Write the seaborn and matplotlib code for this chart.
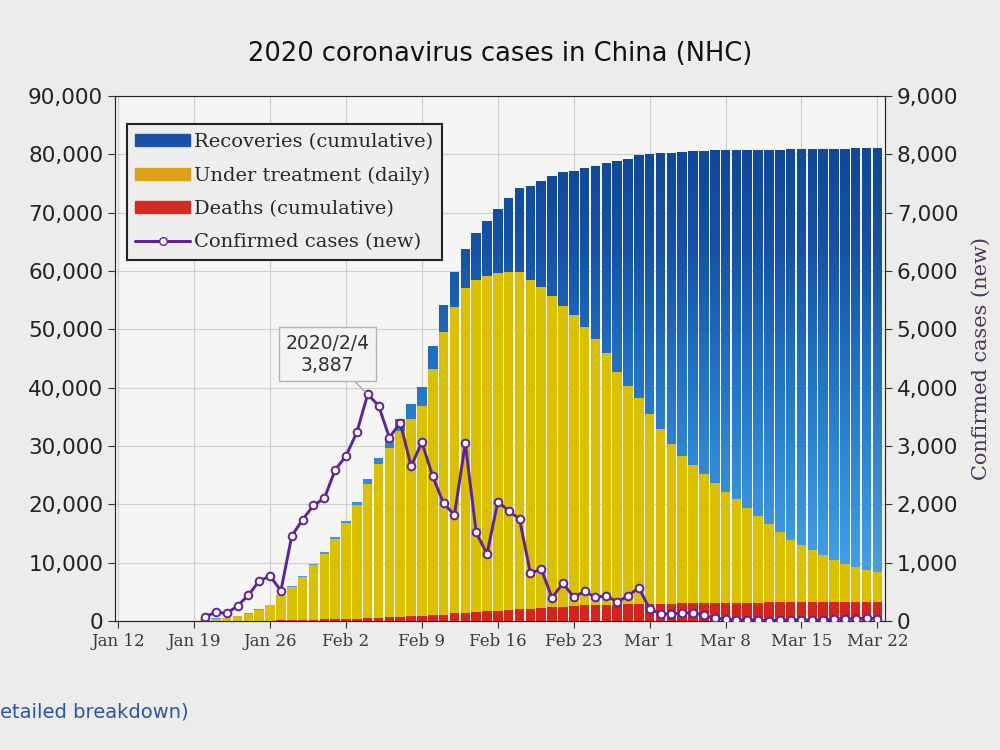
import pandas as pd
import seaborn as sns
import numpy as np
import matplotlib.pyplot as plt
from matplotlib.path import Path
from matplotlib.patches import PathPatch, Patch
from matplotlib.lines import Line2D
from matplotlib.colors import LinearSegmentedColormap

# daily values, 2020-01-20 .. 2020-03-22
dates = pd.date_range('2020-01-20', '2020-03-22', freq='D')

recoveries = [25, 25, 25, 34, 38, 49, 51, 60, 103, 124, 171, 243,
              328, 475, 632, 892, 1153, 1540, 2050, 2649, 3281, 3996, 4740, 5911,
              6723, 8096, 9419, 10844, 12552, 14376, 16155, 18264, 20659, 22888,
              24734, 27323, 29745, 32495, 36117, 39002, 41625,
              44462, 47204, 49856, 52045, 53726, 55404, 57065, 58600, 59897, 61475,
              62793, 64111, 65541, 66911, 67749, 68679, 69601, 70420, 71150, 71740,
              72244, 72703]

under_treatment = [260, 406, 529, 771, 1208, 1870, 2613, 4349, 5739, 7417, 9308, 11289,
                   13748, 16369, 19381, 22942, 26302, 28985, 31774, 33738, 35982, 42200,
                   48400, 52526, 55748, 56873, 57416, 57934, 58016, 57805, 56303, 54965,
                   53284, 51606, 49824, 47672, 45604, 43258, 39919, 37414, 35329,
                   32652, 30004, 27433, 25352, 23784, 22177, 20533, 19016, 17721, 16145,
                   14831, 13526, 12094, 10734, 9898, 8976, 8056, 7263, 6569, 6013,
                   5549, 5120]

deaths = [6, 9, 17, 25, 41, 56, 80, 106, 132, 170, 213, 259,
          304, 361, 425, 490, 563, 636, 722, 811, 908, 1016, 1113, 1367,
          1380, 1523, 1665, 1770, 1868, 2004, 2118, 2236, 2345, 2442,
          2592, 2663, 2715, 2744, 2788, 2835, 2870,
          2912, 2943, 2981, 3012, 3042, 3070, 3097, 3119, 3136, 3158,
          3169, 3176, 3189, 3199, 3213, 3226, 3237, 3245, 3248, 3255,
          3261, 3270]

new_cases = [77, 149, 131, 259, 444, 688, 769, 520, 1459, 1737, 1982, 2102,
             2590, 2829, 3235, 3887, 3694, 3143, 3399, 2656, 3062, 2478, 2015, 1820,
             3050, 1520, 1150, 2048, 1886, 1749, 820, 889, 397, 648, 409, 508,
             406, 433, 327, 427, 573,
             202, 125, 119, 139, 143, 99, 44, 40, 19, 24, 15, 8, 11, 20, 16, 21,
             13, 34, 39, 41, 46, 39]

tick_labels = ['Jan 12', 'Jan 19', 'Jan 26', 'Feb 2', 'Feb 9', 'Feb 16',
               'Feb 23', 'Mar 1', 'Mar 8', 'Mar 15', 'Mar 22']

start = pd.Timestamp('2020-01-12')
df = pd.DataFrame({'date': dates,
                   'day': (dates - start).days,
                   'recoveries': recoveries,
                   'treatment': under_treatment,
                   'deaths': deaths,
                   'new': new_cases})
df['treat_top'] = df['deaths'] + df['treatment']
df['total'] = df['treat_top'] + df['recoveries']

sns.set_style('white')
plt.rcParams['font.family'] = ['DejaVu Sans']

fig = plt.figure(figsize=(10, 7.5), dpi=100, facecolor='#ecedeb')
ax = fig.add_axes([0.115, 0.172, 0.77, 0.70])
ax.set_facecolor('#f5f5f3')

purple = '#5e22a0'
blue_c = '#1f62b8'
yellow_c = '#dbc000'
red_c = '#d6231c'
bar_w = 0.88

# blue (total) bars, then a vertical gradient clipped to them
sns.barplot(data=df, x='day', y='total', native_scale=True, color=blue_c,
            width=bar_w, errorbar=None, saturation=1, linewidth=0, ax=ax, zorder=2)
blue_patches = list(ax.patches)
paths = [p.get_path().transformed(p.get_patch_transform()) for p in blue_patches]
clip = PathPatch(Path.make_compound_path(*paths), transform=ax.transData,
                 facecolor='none', edgecolor='none')
grad_cmap = LinearSegmentedColormap.from_list(
    'rec', ['#4eaaee', '#3590dc', '#2272c6', '#1552a8', '#0f4596'])
grad = np.linspace(0, 1, 256).reshape(-1, 1)
im = ax.imshow(grad, cmap=grad_cmap, origin='lower', aspect='auto',
               extent=[-1, 72, 0, 85000], zorder=2.1)
im.set_clip_path(clip)

sns.barplot(data=df, x='day', y='treat_top', native_scale=True, color=yellow_c,
            width=bar_w, errorbar=None, saturation=1, linewidth=0, ax=ax, zorder=3)
sns.barplot(data=df, x='day', y='deaths', native_scale=True, color=red_c,
            width=bar_w, errorbar=None, saturation=1, linewidth=0, ax=ax, zorder=4)

ax.set_xlim(-0.3, 70.7)
ax.set_ylim(0, 90000)
ax.set_xticks(np.arange(0, 71, 7))
ax.set_xticklabels(tick_labels, family='DejaVu Serif', fontsize=12, color='#3a3a3a')
ax.set_yticks(np.arange(0, 90001, 10000))
ax.set_yticklabels([f'{v:,}' for v in range(0, 90001, 10000)], fontsize=15.5, color='#222222')
ax.set_xlabel('')
ax.set_ylabel('')
ax.grid(True, color='#cfcfcf', linewidth=0.9)
ax.set_axisbelow(True)
ax.tick_params(axis='both', direction='out', length=5, color='#333333', left=True, bottom=True)
for side in ['left', 'bottom', 'right']:
    ax.spines[side].set_color('#444444')
ax.spines['top'].set_color('#bbbbbb')

ax2 = ax.twinx()
sns.lineplot(x=df['day'], y=df['new'], ax=ax2, color=purple, linewidth=2.1,
             marker='o', markersize=5.5, markerfacecolor='white',
             markeredgecolor=purple, markeredgewidth=1.4, zorder=5)
ax2.set_ylim(0, 9000)
ax2.set_xlim(-0.3, 70.7)
ax2.set_yticks(np.arange(0, 9001, 1000))
ax2.set_yticklabels([f'{v:,}' for v in range(0, 9001, 1000)], fontsize=15.5, color='#222222')
ax2.set_ylabel('Confirmed cases (new)', family='DejaVu Serif', fontsize=15,
               color='#4a3560', labelpad=10)
ax2.set_xlabel('')
ax2.tick_params(axis='y', direction='out', length=5, color='#333333', right=True)
ax2.grid(False)

peak = df.loc[df['new'].idxmax()]
peak_date = peak['date']
ax2.annotate(f"{peak_date.year}/{peak_date.month}/{peak_date.day}\n{int(peak['new']):,}",
             xy=(peak['day'], peak['new']), xytext=(19.3, 4570),
             ha='center', va='center', fontsize=13.5, color='#333333',
             bbox=dict(boxstyle='square,pad=0.35', fc='#f3f3f1', ec='#b5b5b5', lw=1),
             arrowprops=dict(arrowstyle='-', color='#aaaaaa', lw=1,
                             shrinkA=0, shrinkB=2),
             zorder=6)

handles = [Patch(color='#1d50a4', label='Recoveries (cumulative)'),
           Patch(color='#dca11a', label='Under treatment (daily)'),
           Patch(color='#d42a20', label='Deaths (cumulative)'),
           Line2D([0], [0], color=purple, lw=2.2, marker='o', markersize=5.5,
                  markerfacecolor='white', markeredgecolor=purple,
                  label='Confirmed cases (new)')]
leg = ax2.legend(handles=handles, loc='upper left', bbox_to_anchor=(0.0, 0.968),
                 prop={'family': 'DejaVu Serif', 'size': 14}, frameon=True,
                 fancybox=False, handlelength=2.8, handleheight=0.55,
                 handletextpad=0.2, labelspacing=0.78, borderpad=0.45,
                 borderaxespad=0.6)
leg.get_frame().set_edgecolor('#222222')
leg.get_frame().set_linewidth(1.5)
leg.get_frame().set_facecolor('#eeeeec')
leg.get_frame().set_alpha(1)

fig.suptitle('2020 coronavirus cases in China (NHC)', fontsize=18.5, y=0.945, color='#111111')
fig.text(0.0, 0.043, 'etailed breakdown)', fontsize=14, color='#2b55a8')

fig.savefig('out.png', dpi=100, facecolor=fig.get_facecolor())
